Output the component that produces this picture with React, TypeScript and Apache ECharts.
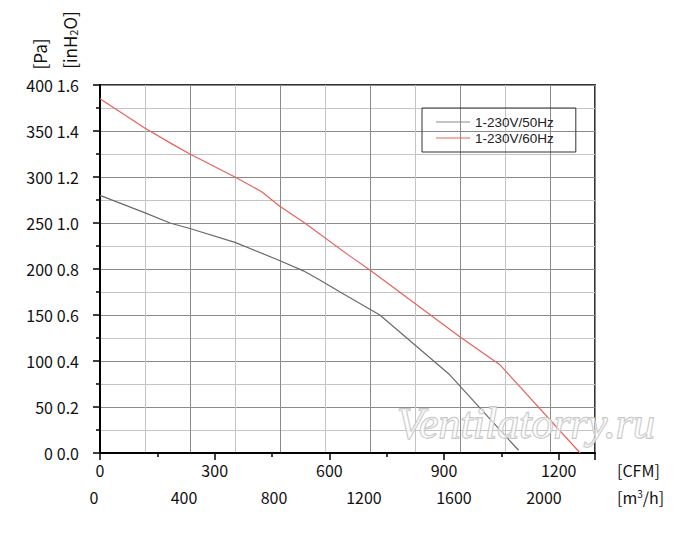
import React, { useEffect, useRef } from "react";
import * as echarts from "echarts";

const seriesNames = ["1-230V/50Hz", "1-230V/60Hz"];
const flowCFM50 = [0, 118, 183, 235, 353, 471, 532, 575, 628, 732, 915, 1055, 1095];
const pressure50 = [280, 261, 250, 244, 229, 209, 198, 188, 175, 150, 85, 21, 3];
const flowCFM60 = [0, 118, 188, 235, 353, 423, 471, 532, 654, 706, 942, 1046, 1256];
const pressure60 = [385, 353, 336, 325, 300, 284, 268, 251, 214, 199, 126, 96, 0];

const M3H_PER_CFM = 1.699;
const m3hMax = 2200;
const paMax = 400;
const inH2OMax = 1.6;

const FONT = "Noto Sans CJK JP";

export default function App() {
  const ref = useRef<HTMLDivElement>(null);
  useEffect(() => {
    if (!ref.current) return;
    const chart = echarts.init(ref.current, undefined, { renderer: "svg" });
    const lbl = { color: "#111", fontSize: 16, fontFamily: FONT };
    chart.setOption({
      animation: false,
      backgroundColor: "#fff",
      grid: {
        left: 100,
        top: 85,
        width: 495,
        height: 368,
        show: true,
        borderColor: "#333",
        borderWidth: 2,
        backgroundColor: "transparent",
      },
      legend: {
        left: 422,
        top: 108,
        orient: "vertical",
        borderColor: "#333",
        borderWidth: 1,
        padding: [6, 22, 6, 14],
        itemGap: 0,
        itemWidth: 34,
        itemHeight: 1,
        icon: "rect",
        textStyle: { fontFamily: "Liberation Sans", fontSize: 13.5, color: "#222", lineHeight: 16 },
        data: seriesNames,
      },
      xAxis: [
        {
          type: "value",
          position: "bottom",
          min: 0,
          max: m3hMax / M3H_PER_CFM,
          interval: 300,
          axisLine: { show: true, onZero: false, lineStyle: { color: "#000", width: 2 } },
          axisTick: { show: true, length: 7, lineStyle: { color: "#000", width: 1.5 } },
          minorTick: { show: true, splitNumber: 2, length: 4, lineStyle: { color: "#000", width: 1.5 } },
          axisLabel: { ...lbl, margin: 9, showMaxLabel: false, formatter: (v: number) => String(Math.round(v)) },
          splitLine: { show: false },
        },
        {
          type: "value",
          position: "bottom",
          offset: 27,
          min: 0,
          max: m3hMax,
          interval: 400,
          axisLine: { show: false },
          axisTick: { show: false },
          minorTick: { show: false, splitNumber: 2 },
          axisLabel: {
            ...lbl,
            margin: 9,
            padding: [0, 12, 0, 0],
            showMaxLabel: false,
            formatter: (v: number) => (v % 400 === 0 ? String(v) : ""),
          },
          splitLine: { show: true, lineStyle: { color: "#8a8a8a", width: 1 } },
          minorSplitLine: { show: true, lineStyle: { color: "#c4c4c4", width: 1 } },
        },
      ],
      yAxis: [
        {
          type: "value",
          position: "left",
          min: 0,
          max: paMax,
          interval: 50,
          axisLine: { show: true, onZero: false, lineStyle: { color: "#000", width: 2 } },
          axisTick: { show: true, length: 7, lineStyle: { color: "#000", width: 1.5 } },
          minorTick: { show: true, splitNumber: 2, length: 4, lineStyle: { color: "#000", width: 1.5 } },
          axisLabel: { ...lbl, margin: 47, padding: [4, 0, 0, 0] },
          splitLine: { show: true, lineStyle: { color: "#8a8a8a", width: 1 } },
          minorSplitLine: { show: true, lineStyle: { color: "#c4c4c4", width: 1 } },
        },
        {
          type: "value",
          position: "left",
          min: 0,
          max: inH2OMax,
          interval: 0.2,
          axisLine: { show: false },
          axisTick: { show: false },
          axisLabel: { ...lbl, margin: 21, padding: [10, 0, 0, 0], formatter: (v: number) => v.toFixed(1) },
          splitLine: { show: false },
        },
      ],
      series: [
        {
          name: seriesNames[0],
          type: "line",
          xAxisIndex: 0,
          yAxisIndex: 0,
          symbol: "none",
          lineStyle: { color: "#6a6a6a", width: 1.2 },
          itemStyle: { color: "#8a8a8a" },
          data: flowCFM50.map((x, i) => [x, pressure50[i]]),
          z: 5,
        },
        {
          name: seriesNames[1],
          type: "line",
          xAxisIndex: 0,
          yAxisIndex: 0,
          symbol: "none",
          lineStyle: { color: "#e8625c", width: 1.2 },
          itemStyle: { color: "#e8625c" },
          data: flowCFM60.map((x, i) => [x, pressure60[i]]),
          z: 5,
        },
      ],
      graphic: [
        {
          type: "text",
          x: 39,
          y: 54,
          rotation: Math.PI / 2,
          style: { text: "[Pa]", fill: "#111", font: `17px '${FONT}'`, align: "center", verticalAlign: "middle" },
        },
        {
          type: "text",
          x: 69,
          y: 40,
          rotation: Math.PI / 2,
          style: {
            text: "[inH{sub|2}O]",
            fill: "#111",
            fontFamily: FONT,
            fontSize: 17,
            align: "center",
            verticalAlign: "middle",
            rich: { sub: { fontSize: 11, fontFamily: FONT, padding: [8, 0, 0, 0] } },
          },
        },
        {
          type: "text",
          x: 617,
          y: 470,
          style: { text: "[CFM]", fill: "#111", font: `16px '${FONT}'`, verticalAlign: "middle" },
        },
        {
          type: "text",
          x: 617,
          y: 497,
          style: {
            text: "[m{sup|3}/h]",
            fill: "#111",
            fontFamily: FONT,
            fontSize: 16,
            verticalAlign: "middle",
            rich: { sup: { fontSize: 10, fontFamily: FONT, padding: [0, 0, 8, 0] } },
          },
        },
        {
          type: "text",
          x: 397,
          y: 401,
          z: 100,
          style: {
            text: "Ventilatorry.ru",
            fill: "rgba(255,255,255,0.6)",
            stroke: "#bdbdbd",
            lineWidth: 1.3,
            font: "italic 44px 'Liberation Serif'",
          },
        },
      ],
    });
    return () => chart.dispose();
  }, []);
  return <div ref={ref} style={{ position: "fixed", left: 0, top: 0, width: 700, height: 546 }} />;
}
